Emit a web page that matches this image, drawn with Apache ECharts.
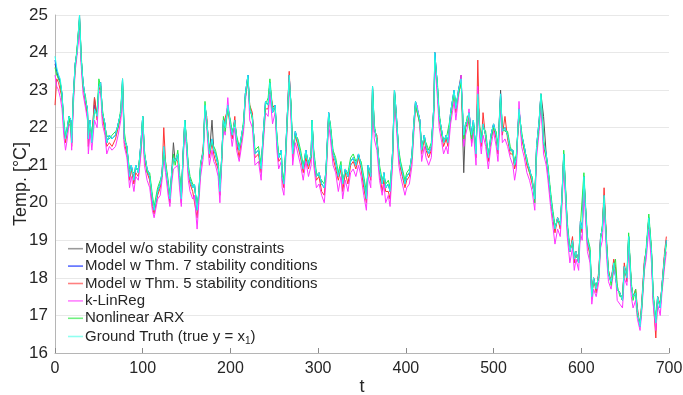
<!DOCTYPE html>
<html><head><meta charset="utf-8">
<script src="https://cdn.jsdelivr.net/npm/echarts@6/dist/echarts.min.js"></script>
<style>html,body{margin:0;padding:0;background:#fff}#c{width:683px;height:395px}</style>
</head><body><div id="c"></div>
<script>
const tVals = [
0,2,4,6,8,10,12,14,16,18,
19,21,23,25,28,30,32,35,37,38,
40,42,45,48,50,52,54,57,59,62,
65,69,72,75,77,79,82,85,87,90,
92,95,98,100,102,105,108,111,113,117,
120,122,124,126,129,131,133,135,137,140,
142,144,146,148,150,152,154,157,159,162,
164,166,169,171,173,176,179,181,183,186,
188,190,192,194,197,200,202,205,207,210,
212,215,217,220,222,225,228,232,235,237,
240,243,245,248,251,253,255,258,259,261,
263,267,269,271,274,277,280,283,286,289,
292,293,295,298,301,304,307,309,312,314,
317,320,323,326,328,331,334,337,340,343,
346,349,352,355,357,360,362,364,367,370,
373,375,377,380,382,385,387,389,392,394,
396,399,401,404,407,409,411,413,416,418,
421,423,426,429,432,433,436,438,441,443,
446,448,451,455,457,460,463,466,468,470,
472,475,477,480,482,484,486,488,491,494,
497,500,503,505,508,510,513,516,519,522,
524,526,529,532,535,538,541,544,547,549,
552,554,557,560,562,565,567,570,573,576,
578,580,584,587,590,592,594,597,599,601,
603,605,607,610,612,614,617,620,622,624,
626,629,631,634,637,639,641,644,647,649,
652,654,657,659,662,664,667,669,672,674,
677,680,682,685,687,690,692,695,697];

const groundTruth = [
23.9,23.6,23.4,23.3,22.9,22.1,21.7,22.0,22.3,22.2,
21.6,22.9,23.7,24.0,25.0,23.8,23.2,22.7,22.5,21.7,
22.2,21.6,22.5,22.3,23.1,23.2,22.4,22.1,21.6,21.8,
21.7,21.8,22.1,22.4,23.3,21.7,21.5,20.7,21.0,20.6,
21.0,20.8,21.6,22.3,21.3,20.9,20.7,20.1,19.8,20.3,
20.5,20.8,21.5,21.0,20.5,20.1,20.8,21.2,21.1,21.3,
20.7,20.1,21.3,22.2,21.6,20.9,20.6,20.4,20.5,19.8,
20.3,21.0,21.4,22.6,22.2,21.3,21.7,21.4,21.3,21.0,
20.3,21.2,22.2,22.0,22.6,22.1,21.8,22.2,21.7,21.4,
21.7,22.1,22.9,23.4,22.5,22.3,21.3,21.4,20.9,21.7,
22.7,22.6,23.2,22.4,22.6,21.7,21.2,21.4,20.7,20.5,
21.4,23.4,22.6,21.3,21.9,21.6,21.3,20.9,21.4,21.0,
21.3,22.2,21.3,20.7,20.8,20.5,20.4,20.9,22.4,22.0,
21.3,21.1,20.7,21.0,20.5,20.9,20.7,21.1,21.2,21.0,
21.3,21.0,20.6,20.1,21.0,20.7,23.1,22.0,21.7,20.9,
20.5,20.8,20.4,20.5,20.3,21.4,23.0,22.4,21.3,21.0,
20.8,20.5,20.7,20.8,21.3,22.1,22.7,22.5,22.2,21.4,
21.8,21.5,21.3,21.5,22.6,24.0,23.1,22.3,21.9,21.6,
21.8,21.6,22.4,23.0,22.5,23.0,23.3,21.8,22.1,22.2,
22.4,21.8,22.2,21.3,22.9,22.0,21.6,22.1,21.8,21.2,
21.8,22.1,21.8,21.4,22.9,21.9,22.0,21.8,21.4,21.4,
21.0,21.2,22.5,21.8,21.5,21.1,20.9,20.6,20.1,21.5,
22.2,22.9,21.6,21.3,20.9,20.2,19.8,19.3,19.6,19.4,
20.2,21.3,19.4,18.7,19.0,18.5,18.7,18.4,19.5,19.3,
20.7,19.8,19.0,18.7,17.5,18.0,17.7,18.1,19.1,19.3,
20.2,18.8,18.1,17.9,18.4,18.4,17.7,17.6,17.4,18.3,
18.0,19.1,17.8,17.5,17.6,17.1,16.7,17.3,18.4,18.7,
19.6,18.7,17.5,16.8,17.5,17.2,17.8,18.6,19.0];

const narx = [
23.6,23.4,23.3,23.2,22.8,22.2,21.8,21.9,22.3,22.3,
21.8,22.8,23.6,24.1,24.9,23.9,23.1,22.8,22.4,21.8,
22.1,21.8,22.4,22.4,23.3,23.1,22.5,22.0,21.8,21.7,
21.8,21.9,22.0,22.5,23.3,21.9,21.4,20.9,20.9,20.8,
20.9,20.9,21.5,22.3,21.4,20.8,20.8,20.2,19.9,20.4,
20.6,20.7,21.3,21.1,20.6,20.2,20.7,21.3,21.0,21.4,
20.8,20.3,21.2,22.2,21.7,21.0,20.7,20.5,20.4,20.0,
20.2,21.1,21.3,22.7,22.1,21.4,21.6,21.5,21.4,21.1,
20.5,21.1,22.3,21.9,22.5,22.2,21.9,22.1,21.8,21.5,
21.6,22.2,22.8,23.3,22.6,22.2,21.4,21.5,21.0,21.6,
22.6,22.8,23.3,22.5,22.5,21.8,21.3,21.3,20.9,20.6,
21.3,23.2,22.7,21.4,21.8,21.7,21.4,21.0,21.3,21.1,
21.2,22.2,21.4,20.8,20.7,20.6,20.5,20.8,22.3,22.1,
21.4,21.2,20.8,21.1,20.6,20.8,20.8,21.2,21.3,21.1,
21.2,21.1,20.7,20.3,20.9,20.8,23.1,22.1,21.6,21.0,
20.6,20.7,20.5,20.6,20.4,21.3,23.0,22.3,21.4,21.1,
20.9,20.6,20.8,20.9,21.2,22.0,22.6,22.6,22.1,21.5,
21.7,21.6,21.4,21.6,22.5,23.8,23.2,22.4,21.8,21.7,
21.7,21.7,22.3,22.9,22.6,22.9,23.2,21.7,22.0,22.3,
22.3,21.7,22.1,21.4,22.8,22.1,21.7,22.0,21.9,21.3,
21.7,22.0,21.9,21.5,22.8,22.0,21.9,21.9,21.5,21.3,
21.1,21.3,22.4,21.9,21.4,21.2,20.8,20.7,20.0,21.4,
22.1,22.9,21.7,21.2,21.0,20.3,19.9,19.4,19.5,19.5,
20.1,21.4,19.5,18.8,18.9,18.6,18.6,18.5,19.4,19.4,
20.8,19.9,19.1,18.8,17.6,17.9,17.8,18.0,19.0,19.4,
20.1,18.9,18.2,17.8,18.3,18.5,17.8,17.5,17.5,18.2,
18.1,19.2,17.9,17.4,17.7,17.0,16.8,17.2,18.3,18.8,
19.7,18.8,17.6,16.9,17.4,17.3,17.7,18.5,18.9];

const kLinReg = [
23.4,23.1,23.0,22.8,22.5,21.8,21.4,21.7,22.1,22.0,
21.4,22.6,23.5,23.9,24.6,23.6,22.9,22.5,22.2,21.3,
21.9,21.4,22.2,22.0,22.9,23.0,22.1,21.8,21.3,21.5,
21.4,21.5,21.8,22.2,23.0,21.5,21.2,20.4,20.7,20.3,
20.7,20.6,21.3,22.0,21.0,20.6,20.4,19.8,19.6,20.1,
20.2,20.6,21.2,20.8,20.2,19.9,20.5,20.9,20.9,21.0,
20.4,19.9,21.0,22.0,21.4,20.6,20.3,20.1,20.2,19.3,
20.0,20.7,21.2,22.4,22.0,21.0,21.4,21.1,21.0,20.7,
20.0,21.0,22.0,21.8,22.8,21.9,21.5,22.0,21.4,21.1,
21.4,21.9,22.7,23.3,22.2,22.0,21.0,21.1,20.6,21.4,
22.4,22.3,22.9,22.1,22.4,21.4,20.9,21.1,20.4,20.2,
21.1,23.2,22.3,21.0,21.6,21.3,21.0,20.6,21.1,20.7,
21.0,21.9,21.0,20.4,20.5,20.2,20.0,20.6,22.1,21.7,
21.0,20.8,20.3,20.7,20.1,20.6,20.3,20.8,20.9,20.7,
21.0,20.7,20.2,19.8,20.7,20.4,22.8,21.7,21.4,20.6,
20.2,20.5,20.0,20.2,19.9,21.1,22.7,22.1,21.0,20.7,
20.5,20.2,20.4,20.5,21.0,21.8,22.5,22.6,22.0,21.1,
21.5,21.2,21.0,21.2,22.3,23.7,22.8,22.0,21.6,21.3,
21.5,21.3,22.1,22.7,22.2,22.8,23.4,21.5,21.8,22.0,
22.5,21.5,21.9,21.0,23.1,21.8,21.3,21.8,21.5,20.9,
21.5,21.9,21.5,21.1,22.6,21.6,21.7,21.5,21.2,21.0,
20.6,20.9,22.7,21.5,21.2,20.8,20.6,20.3,19.8,21.2,
21.9,22.6,21.3,21.0,20.6,19.9,19.5,18.9,19.3,19.1,
19.9,21.0,19.1,18.4,18.8,18.2,18.5,18.2,19.2,19.0,
20.4,19.5,18.7,18.4,17.3,17.7,17.5,17.9,18.8,19.0,
19.9,18.5,17.9,17.7,18.2,18.1,17.4,17.3,17.2,18.0,
17.8,18.8,17.5,17.2,17.4,16.9,16.6,17.1,18.2,18.5,
19.3,18.4,17.3,16.6,17.3,17.0,17.6,18.3,18.7];

const modelThm5 = [
22.6,23.3,23.2,23.0,22.8,22.0,21.6,21.9,22.2,22.1,
21.5,22.8,23.6,24.0,24.8,23.7,23.1,22.6,22.3,21.5,
22.0,21.6,22.8,22.2,23.0,23.1,22.3,21.9,21.5,21.6,
21.5,21.7,22.0,22.3,23.1,21.6,21.3,20.6,20.9,20.5,
20.8,20.7,21.4,22.1,21.2,20.8,20.6,19.9,19.7,20.2,
20.4,20.7,22.0,21.1,20.4,20.0,20.7,21.2,21.2,21.1,
20.6,20.0,21.2,22.1,21.5,20.8,20.5,20.3,20.3,19.6,
20.2,20.9,21.5,22.4,22.3,21.2,21.6,21.3,21.1,20.9,
20.2,21.1,22.1,22.1,22.5,22.0,21.7,22.3,21.6,21.2,
21.6,22.0,22.8,23.3,22.6,22.4,21.2,21.3,20.8,21.6,
22.5,22.5,23.0,22.6,22.5,21.6,21.1,21.2,20.6,20.4,
21.3,23.5,22.5,21.2,21.8,21.5,21.2,20.8,21.2,20.9,
21.2,22.1,21.2,20.6,20.7,20.3,20.2,20.8,22.3,22.0,
21.2,20.9,20.6,20.9,20.3,20.8,20.5,21.0,21.1,20.9,
21.2,20.9,20.4,20.0,20.9,20.6,22.9,21.9,21.8,20.8,
20.3,20.6,20.3,20.3,20.1,21.2,22.9,22.3,21.2,20.9,
20.7,20.4,20.6,20.7,21.2,22.0,22.6,22.4,22.1,21.3,
21.7,21.4,21.2,21.4,22.5,23.8,23.0,22.2,21.8,21.5,
21.7,21.5,22.3,22.9,22.4,22.9,23.2,21.7,22.0,22.1,
22.3,21.6,22.1,21.2,23.8,21.9,21.5,22.4,21.7,21.1,
21.7,22.0,21.7,21.3,22.7,21.8,22.3,21.7,21.3,21.3,
20.9,21.1,22.4,21.7,21.4,21.0,20.8,20.5,20.2,21.4,
22.1,22.8,21.5,21.2,20.8,20.1,19.7,19.2,19.6,19.3,
20.1,21.2,19.3,18.7,19.1,18.4,18.7,18.4,19.4,19.2,
20.6,19.7,18.9,18.6,17.5,18.0,17.6,18.2,19.1,19.3,
20.4,18.9,18.2,17.9,18.5,18.3,17.7,17.6,17.4,18.4,
17.9,19.0,17.8,17.5,17.7,17.2,16.7,17.4,18.5,18.7,
19.5,18.7,17.4,16.4,17.5,17.3,17.8,18.7,19.1];

const modelThm7 = [
23.8,23.5,23.4,23.2,22.9,22.1,21.7,22.0,22.3,22.2,
21.6,22.9,23.7,24.0,24.9,23.8,23.2,22.7,22.5,21.7,
22.2,21.6,22.6,22.3,23.1,23.2,22.4,22.1,21.6,21.8,
21.7,21.8,22.1,22.4,23.3,21.7,21.5,20.7,21.0,20.6,
21.0,20.8,21.6,22.3,21.3,20.9,20.7,20.1,19.8,20.3,
20.5,20.8,21.5,21.0,20.5,20.1,20.8,21.2,21.1,21.3,
20.7,20.1,21.3,22.2,21.6,20.9,20.6,20.4,20.5,19.8,
20.3,21.0,21.4,22.6,22.2,21.3,21.7,21.4,21.3,21.0,
20.3,21.2,22.2,22.0,22.6,22.1,21.8,22.2,21.7,21.4,
21.7,22.1,22.9,23.4,22.5,22.3,21.3,21.4,20.9,21.7,
22.7,22.6,23.2,22.4,22.6,21.7,21.2,21.4,20.7,20.5,
21.4,23.4,22.6,21.3,21.9,21.6,21.3,20.9,21.4,21.0,
21.3,22.2,21.3,20.7,20.8,20.5,20.4,20.9,22.4,22.0,
21.3,21.1,20.7,21.0,20.5,20.9,20.7,21.1,21.2,21.0,
21.3,21.0,20.6,20.1,21.0,20.7,23.1,22.0,21.7,20.9,
20.5,20.8,20.4,20.5,20.3,21.4,23.0,22.4,21.3,21.0,
20.8,20.5,20.7,20.8,21.3,22.1,22.7,22.5,22.2,21.4,
21.8,21.5,21.3,21.5,22.6,24.0,23.1,22.3,21.9,21.6,
21.8,21.6,22.4,23.0,22.5,23.0,23.3,21.8,22.1,22.2,
22.4,21.8,22.2,21.3,22.9,22.0,21.6,22.1,21.8,21.2,
21.8,22.1,21.8,21.4,22.9,21.9,22.0,21.8,21.4,21.4,
21.0,21.2,22.5,21.8,21.5,21.1,20.9,20.6,20.1,21.5,
22.2,22.9,21.6,21.3,20.9,20.2,19.8,19.3,19.6,19.4,
20.2,21.3,19.4,18.7,19.0,18.5,18.7,18.4,19.5,19.3,
20.7,19.8,19.0,18.7,17.5,18.0,17.7,18.1,19.1,19.3,
20.2,18.8,18.1,17.9,18.4,18.4,17.7,17.6,17.4,18.3,
18.0,19.1,17.8,17.5,17.6,17.1,16.7,17.3,18.4,18.7,
19.6,18.7,17.5,16.8,17.5,17.2,17.8,18.6,19.0];

const modelNoStab = [
23.7,23.5,23.3,23.2,22.9,22.1,21.7,22.0,22.3,22.2,
21.6,22.9,23.7,24.0,25.0,23.8,23.2,22.7,22.5,21.7,
22.2,21.6,22.8,22.3,23.1,23.2,22.4,22.1,21.6,21.8,
21.7,21.8,22.1,22.4,23.2,21.7,21.5,20.7,21.0,20.6,
21.0,20.8,21.6,22.3,21.3,20.9,20.7,20.1,19.8,20.3,
20.5,20.8,21.4,21.0,20.5,20.1,20.8,21.6,21.1,21.3,
20.7,20.1,21.3,22.2,21.6,20.9,20.6,20.4,20.5,19.8,
20.3,21.0,21.4,22.6,22.2,21.3,22.2,21.4,21.3,21.0,
20.3,21.2,22.2,22.0,22.6,22.1,21.8,22.2,21.7,21.4,
21.7,22.1,22.9,23.4,22.5,22.3,21.3,21.4,20.9,21.7,
22.7,22.6,23.2,22.4,22.6,21.7,21.2,21.4,20.7,20.5,
21.4,23.4,22.6,21.3,21.9,21.6,21.3,20.9,21.4,21.0,
21.3,22.2,21.3,20.7,20.8,20.5,20.4,20.9,22.4,22.0,
21.3,21.1,20.7,21.0,20.5,20.9,20.7,21.1,21.2,21.0,
21.3,21.0,20.6,20.1,21.0,20.7,23.1,22.0,21.7,20.9,
20.5,20.8,20.4,20.5,20.3,21.4,23.0,22.4,21.3,21.0,
20.8,20.5,20.7,20.8,21.3,22.1,22.7,22.5,22.2,21.4,
21.8,21.5,21.3,21.5,22.6,24.0,23.1,22.3,21.9,21.6,
21.8,21.6,22.4,23.0,22.5,23.0,23.4,20.8,22.1,22.2,
22.4,21.8,22.2,21.3,22.9,22.0,21.6,22.1,21.8,21.2,
21.8,22.1,21.8,21.4,23.0,21.9,22.0,21.8,21.4,21.4,
21.0,21.2,22.5,21.8,21.5,21.1,20.9,20.6,20.1,21.5,
22.2,22.9,22.3,21.3,20.9,20.2,19.8,19.3,19.6,19.4,
20.2,21.3,19.4,18.7,19.0,18.5,18.7,18.4,19.5,19.3,
20.7,19.8,19.0,18.7,17.5,18.0,17.7,18.1,19.1,19.3,
20.2,18.8,18.1,17.9,18.4,18.4,17.7,17.6,17.4,18.3,
18.0,19.1,17.8,17.5,17.6,17.1,16.7,17.3,18.4,18.7,
19.6,18.7,17.5,16.8,17.5,17.2,17.8,18.6,19.0];

const seriesNames = [
  'Model w/o stability constraints',
  'Model w Thm. 7 stability conditions',
  'Model w Thm. 5 stability conditions',
  'k-LinReg',
  'Nonlinear ARX',
  'Ground Truth (true y = x1)'
];
const seriesData = [modelNoStab, modelThm7, modelThm5, kLinReg, narx, groundTruth];
const seriesColors = ['#555555', '#1f3fff', '#ff3333', '#ff33ff', '#22ee44', '#22ffee'];
const legendColors = ['#9a9a9a', '#5a6cff', '#ff8080', '#ff80ff', '#70f080', '#90fff0'];
const xTicks = [0, 100, 200, 300, 400, 500, 600, 700];
const yTicks = [16, 17, 18, 19, 20, 21, 22, 23, 24, 25];

seriesData.forEach(function (arr, k) {
  if (arr.length !== tVals.length) throw new Error('length mismatch in series ' + k + ': ' + arr.length + ' vs ' + tVals.length);
});

const FONT = '"Liberation Sans", Arial, Helvetica, sans-serif';
const chart = echarts.init(document.getElementById('c'), null, {renderer: 'canvas'});

chart.setOption({
  animation: false,
  backgroundColor: '#ffffff',
  textStyle: {fontFamily: FONT},
  grid: {left: 55, right: 14, top: 15, bottom: 42, containLabel: false, outerBoundsMode: 'none'},
  legend: {
    show: true,
    left: 68, top: 240, orient: 'vertical', itemGap: 0, padding: 0,
    itemWidth: 15, itemHeight: 1.6, icon: 'rect',
    data: seriesNames.map(function (n, i) { return {name: n, itemStyle: {color: legendColors[i]}}; }),
    formatter: function (n) {
      if (n === seriesNames[5]) return 'Ground Truth (true y = x{sub|1})';
      return n;
    },
    textStyle: {fontSize: 15, lineHeight: 17.4, color: '#262626', fontFamily: FONT, padding: [0, 0, 0, -3],
      rich: {sub: {fontSize: 10, lineHeight: 17.4, padding: [9, 0, 0, 0], color: '#262626', fontFamily: FONT}}},
    selectedMode: false
  },
  xAxis: {
    type: 'value', min: 0, max: 700, interval: 100,
    name: 't', nameLocation: 'middle', nameGap: 25, nameMoveOverlap: false,
    nameTextStyle: {fontSize: 18, color: '#262626', fontFamily: FONT},
    axisLine: {show: true, lineStyle: {color: '#b5b5b5', width: 1}},
    axisTick: {show: true, inside: true, length: 5, lineStyle: {color: '#8a8a8a'}},
    axisLabel: {fontSize: 16, color: '#262626', margin: 8, fontFamily: FONT,
      formatter: function (v) { return xTicks.indexOf(v) >= 0 ? String(v) : ''; }},
    splitLine: {show: false}
  },
  yAxis: {
    type: 'value', min: 16, max: 25, interval: 1,
    name: 'Temp. [°C]', nameLocation: 'middle', nameGap: 25, nameMoveOverlap: false,
    nameTextStyle: {fontSize: 18, color: '#262626', fontFamily: FONT},
    axisLine: {show: true, lineStyle: {color: '#b5b5b5', width: 1}},
    axisTick: {show: false},
    axisLabel: {fontSize: 17, color: '#262626', margin: 7, fontFamily: FONT,
      formatter: function (v) { return yTicks.indexOf(v) >= 0 ? String(v) : ''; }},
    splitLine: {show: true, lineStyle: {color: '#e8e8e8', width: 1}}
  },
  series: seriesData.map(function (arr, k) {
    return {
      name: seriesNames[k], type: 'line', showSymbol: false, symbol: 'none',
      data: tVals.map(function (t, i) { return [t, arr[i]]; }),
      lineStyle: {color: seriesColors[k], width: 1},
      itemStyle: {color: seriesColors[k]},
      z: 2 + k, silent: true
    };
  })
});
</script></body></html>
